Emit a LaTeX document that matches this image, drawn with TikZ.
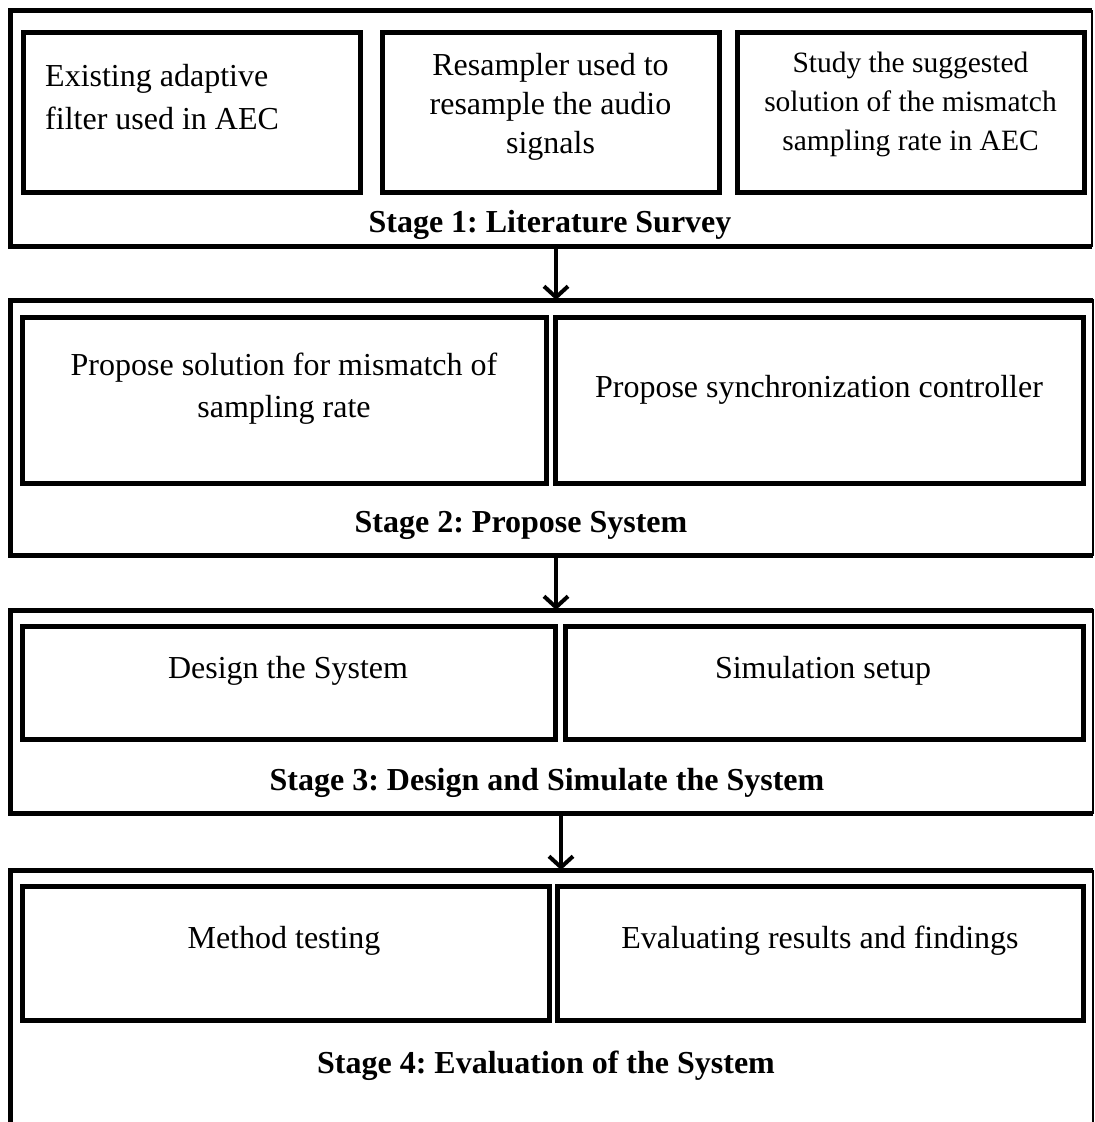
\documentclass[tikz,border=0pt]{standalone}
\usepackage{fontspec}
\setmainfont{Liberation Serif}
\usetikzlibrary{arrows.meta}
\frenchspacing
\begin{document}
\begin{tikzpicture}[x=1pt,y=-1pt,
  inbox/.style={draw, line width=5pt, inner sep=0pt, outer sep=0pt},
  outbox/.style={draw, line width=1.8pt, inner sep=0pt, outer sep=0pt},
  heavy/.style={line width=5pt},
  body/.style={font=\fontsize{32}{39}\selectfont, inner sep=0pt, align=center, anchor=base},
  ttl/.style={font=\fontsize{32}{38}\selectfont\bfseries, inner sep=0pt, anchor=base},
  flow/.style={line width=4pt, -{Straight Barb[length=11pt,width=24pt,line width=4pt]}}
]
\useasboundingbox (0,0) rectangle (1095,1122);

% ---------- Stage 1 ----------
\node[outbox, minimum width=1082pt, minimum height=235.5pt] (s1) at (551,128.25) {};
\draw[heavy] (s1.north east) -- (s1.north west) -- (s1.south west) -- (s1.south east);
\node[inbox, minimum width=337pt, minimum height=160pt] (b11) at (191.5,112) {};
\node[inbox, minimum width=337pt, minimum height=160pt] (b12) at (550.5,112) {};
\node[inbox, minimum width=347pt, minimum height=160pt] (b13) at (910.5,112) {};
\node[body, anchor=base west, align=left, font=\fontsize{32}{43}\selectfont] (t11) at (45,129) {Existing adaptive\\filter used in AEC};
\node[body] (t12) at (550.5,153) {Resampler used to\\resample the audio\\signals};
\node[body, font=\fontsize{29.5}{39}\selectfont] (t13) at (910.5,150) {Study the suggested\\solution of the mismatch\\sampling rate in AEC};
\node[ttl] (T1) at (550,232) {Stage 1: Literature Survey};

% ---------- Stage 2 ----------
\node[outbox, minimum width=1083pt, minimum height=255pt] (s2) at (551.5,427.5) {};
\draw[heavy] (s2.north east) -- (s2.north west) -- (s2.south west) -- (s2.south east);
\node[inbox, minimum width=524pt, minimum height=166pt] (b21) at (284,400) {};
\node[inbox, minimum width=528pt, minimum height=166pt] (b22) at (819,400) {};
\node[body, font=\fontsize{32}{42}\selectfont] (t21) at (284,417) {Propose solution for mismatch of\\sampling rate};
\node[body] (t22) at (819,397) {Propose synchronization controller};
\node[ttl] (T2) at (521,532) {Stage 2: Propose System};

% ---------- Stage 3 ----------
\node[outbox, minimum width=1083pt, minimum height=203pt] (s3) at (551.5,711.5) {};
\draw[heavy] (s3.north east) -- (s3.north west) -- (s3.south west) -- (s3.south east);
\node[inbox, minimum width=533pt, minimum height=113pt] (b31) at (288.5,682.5) {};
\node[inbox, minimum width=518pt, minimum height=113pt] (b32) at (824,682.5) {};
\node[body] (t31) at (288,678) {Design the System};
\node[body] (t32) at (823,678) {Simulation setup};
\node[ttl] (T3) at (547,790) {Stage 3: Design and Simulate the System};

% ---------- Stage 4 (open at the bottom) ----------
\coordinate (s4tl) at (10,870);
\coordinate (s4tr) at (1093,870);
\coordinate (s4bl) at (10,1130);
\coordinate (s4br) at (1093,1130);
\draw[heavy] (s4bl) -- (s4tl) -- (s4tr);
\draw[line width=1.8pt] (s4tr) -- (s4br);
\node[inbox, minimum width=527pt, minimum height=134pt] (b41) at (285.5,953) {};
\node[inbox, minimum width=526pt, minimum height=134pt] (b42) at (820,953) {};
\node[body] (t41) at (284,948) {Method testing};
\node[body] (t42) at (820,948) {Evaluating results and findings};
\node[ttl] (T4) at (546,1073) {Stage 4: Evaluation of the System};

% ---------- connectors ----------
\coordinate (c12) at (556,0);
\coordinate (c23) at (556,0);
\coordinate (c34) at (561,0);
\draw[flow] (s1.south -| c12) -- (s2.north -| c12);
\draw[flow] (s2.south -| c23) -- (s3.north -| c23);
\draw[flow] (s3.south -| c34) -- (s4tl -| c34);
\end{tikzpicture}
\end{document}
